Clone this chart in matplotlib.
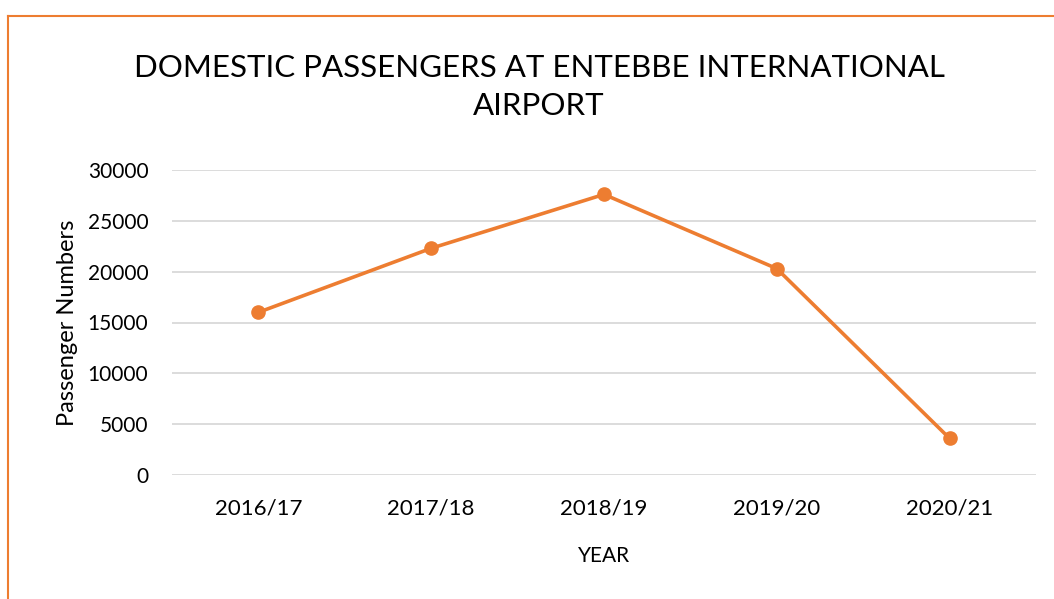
import matplotlib
matplotlib.use("Agg")
from matplotlib import pyplot as plt
from matplotlib.lines import Line2D

# data
years = ["2016/17", "2017/18", "2018/19", "2019/20", "2020/21"]
passengers = [16000, 22300, 27600, 20300, 3600]
yticks = [0, 5000, 10000, 15000, 20000, 25000, 30000]

orange = "#ED7D31"
plt.rcParams['font.family'] = ['Lato', 'DejaVu Sans']

fig = plt.figure(figsize=(10.54, 5.99), dpi=100)
ax = fig.add_axes([172/1054, 1-475/599, (1036-172)/1054, (475-170)/599])

x = range(len(years))
ax.plot(x, passengers, color=orange, linewidth=2.6, marker="o", markersize=9.5)

ax.set_xlim(-0.5, len(years) - 0.5)
ax.set_ylim(0, 30000)
ax.set_yticks(yticks)
ax.set_xticks(list(x))
ax.set_xticklabels(years)
ax.tick_params(axis="both", length=0, colors="black")
ax.tick_params(axis="y", pad=17, labelsize=15)
ax.tick_params(axis="x", pad=17, labelsize=16)
ax.grid(axis="y", color="#D9D9D9", linewidth=1.3)
ax.set_axisbelow(True)
for s in ax.spines.values():
    s.set_visible(False)

ax.set_xlabel("YEAR", fontsize=15, labelpad=20)
ax.set_ylabel("Passenger Numbers", fontsize=17, labelpad=7)

fig.text(539/1054, 1-87/599, "DOMESTIC PASSENGERS AT ENTEBBE INTERNATIONAL\nAIRPORT",
         ha="center", va="center", fontsize=22.5, linespacing=1.45)

# orange frame on left and top
fig.add_artist(Line2D([8/1054, 8/1054], [0, 1-16/599], color=orange, linewidth=1.5))
fig.add_artist(Line2D([8/1054, 1], [1-16/599, 1-16/599], color=orange, linewidth=1.5))

fig.savefig("out.png", dpi=100, facecolor="white")
